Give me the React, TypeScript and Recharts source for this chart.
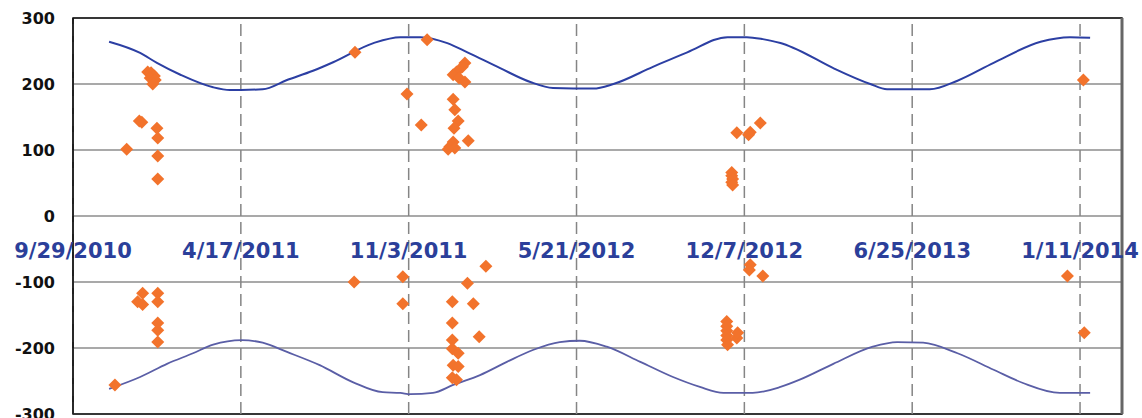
import React from 'react';
import {
  ComposedChart,
  CartesianGrid,
  XAxis,
  YAxis,
  Line,
  Scatter,
  ReferenceArea,
  ReferenceLine,
  ReferenceDot,
} from 'recharts';

// x values are days counted from 9/29/2010
const START = Date.UTC(2010, 8, 29);
const X_MAX = 1250;

const dateLabels = ['9/29/2010', '4/17/2011', '11/3/2011', '5/21/2012', '12/7/2012', '6/25/2013', '1/11/2014'];
const yTicks = [-300, -200, -100, 0, 100, 200, 300];

const upperCurve: [number, number][] = [
  [43, 264], [80, 247], [100, 232], [128, 214], [167, 195], [187, 191], [200, 191], [226, 192],
  [255, 206], [286, 220], [310, 233], [358, 262], [390, 271], [414, 271], [446, 262], [470, 248],
  [509, 224], [545, 203], [572, 194], [620, 193], [644, 200], [691, 226], [732, 248], [780, 271],
  [803, 271], [822, 268], [843, 262], [858, 255], [906, 224], [950, 200], [970, 192], [1021, 192],
  [1054, 205], [1097, 232], [1153, 264], [1188, 271], [1212, 270],
];

const lowerCurve: [number, number][] = [
  [43, -262], [80, -244], [112, -224], [143, -208], [167, -195], [201, -188], [226, -192],
  [255, -206], [294, -226], [334, -252], [369, -267], [390, -268], [402, -270], [429, -268],
  [453, -256], [485, -241], [517, -221], [548, -203], [580, -191], [604, -189], [636, -198],
  [676, -221], [715, -244], [747, -259], [775, -268], [810, -268], [843, -259], [866, -248],
  [906, -224], [953, -198], [982, -191], [1013, -192], [1054, -208], [1097, -233], [1132, -253],
  [1176, -268], [1212, -268],
];

const pointsAbove: [number, number][] = [
  [89, 218], [93, 217], [97, 212], [92, 209], [98, 206], [95, 200],
  [79, 144], [82, 142], [100, 133], [101, 118], [64, 101], [101, 91], [101, 56],
  [336, 248],
  [422, 267], [398, 185], [415, 138],
  [467, 232], [464, 226], [457, 218], [453, 214], [460, 209], [467, 203],
  [453, 177], [455, 161], [459, 144], [454, 133], [471, 114], [453, 112], [449, 105], [455, 103], [447, 101],
  [819, 141], [791, 126], [807, 127], [805, 123],
  [785, 66], [785, 61], [786, 56], [785, 51], [786, 47],
  [1204, 206],
];

const pointsBelow: [number, number][] = [
  [83, -117], [101, -117], [77, -130], [83, -134], [101, -130], [101, -162], [101, -173], [101, -191],
  [50, -256],
  [335, -100],
  [492, -76], [393, -92], [470, -102], [393, -133], [452, -130], [477, -133], [452, -162], [484, -183],
  [452, -188], [452, -201], [459, -208], [453, -226], [459, -228], [452, -245], [457, -248],
  [807, -74], [806, -82], [822, -91],
  [779, -160], [779, -167], [779, -174], [779, -181], [779, -188], [780, -195], [791, -185], [792, -177],
  [1185, -91], [1205, -177],
];

const toDay = (s: string) => {
  const [m, d, y] = s.split('/').map(Number);
  return Math.round((Date.UTC(y, m - 1, d) - START) / 86400000);
};
const xTicks = dateLabels.map(toDay);
const toRows = (pts: [number, number][]) => pts.map(([x, y]) => ({ x, y }));

const FONT = 'DejaVu Sans';

const Diamond = (props: any) => {
  const { cx, cy } = props;
  const r = 6.5;
  return (
    <polygon
      points={`${cx},${cy - r} ${cx + r},${cy} ${cx},${cy + r} ${cx - r},${cy}`}
      fill="#F2732C"
    />
  );
};

export default function App() {
  return (
    <div style={{ position: 'absolute', left: 0, top: 0, fontFamily: FONT }}>
      <ComposedChart width={1142} height={418} margin={{ top: 18, right: 20, bottom: 0, left: 0 }}>
        <CartesianGrid horizontal vertical={false} stroke="#8c8c8c" strokeWidth={1.5} />
        <XAxis
          type="number"
          dataKey="x"
          domain={[0, X_MAX]}
          ticks={xTicks}
          tick={false}
          tickLine={false}
          axisLine={false}
          height={4}
          allowDataOverflow
        />
        <YAxis
          type="number"
          dataKey="y"
          domain={[-300, 300]}
          ticks={yTicks}
          interval={0}
          width={73}
          tickLine={false}
          tickSize={0}
          tickMargin={18}
          axisLine={{ stroke: '#111', strokeWidth: 1.5 }}
          tick={{ fill: '#111', fontSize: 16, fontWeight: 'bold', fontFamily: FONT }}
        />
        {xTicks.map((t) => (
          <ReferenceLine key={t} x={t} stroke="#858585" strokeWidth={1.5} strokeDasharray="12 6" />
        ))}
        <ReferenceArea x1={0} x2={X_MAX} y1={-300} y2={300} fill="none" stroke="#111" strokeWidth={1.5} />
        <ReferenceLine x={X_MAX} stroke="#666" strokeWidth={3} />
        {dateLabels.map((label, i) => (
          <ReferenceDot
            key={label}
            x={xTicks[i]}
            y={-52}
            r={0}
            fill="none"
            stroke="none"
            label={{
              value: label,
              position: 'center',
              fill: '#2B3F9A',
              fontSize: 21,
              fontWeight: 'bold',
              fontFamily: FONT,
            }}
          />
        ))}
        <Line
          data={toRows(upperCurve)}
          dataKey="y"
          type="monotone"
          stroke="#2C3FA3"
          strokeWidth={2}
          dot={false}
          activeDot={false}
          isAnimationActive={false}
        />
        <Line
          data={toRows(lowerCurve)}
          dataKey="y"
          type="monotone"
          stroke="#5A5EA6"
          strokeWidth={1.8}
          dot={false}
          activeDot={false}
          isAnimationActive={false}
        />
        <Scatter data={toRows(pointsAbove)} dataKey="y" shape={<Diamond />} isAnimationActive={false} />
        <Scatter data={toRows(pointsBelow)} dataKey="y" shape={<Diamond />} isAnimationActive={false} />
      </ComposedChart>
    </div>
  );
}
